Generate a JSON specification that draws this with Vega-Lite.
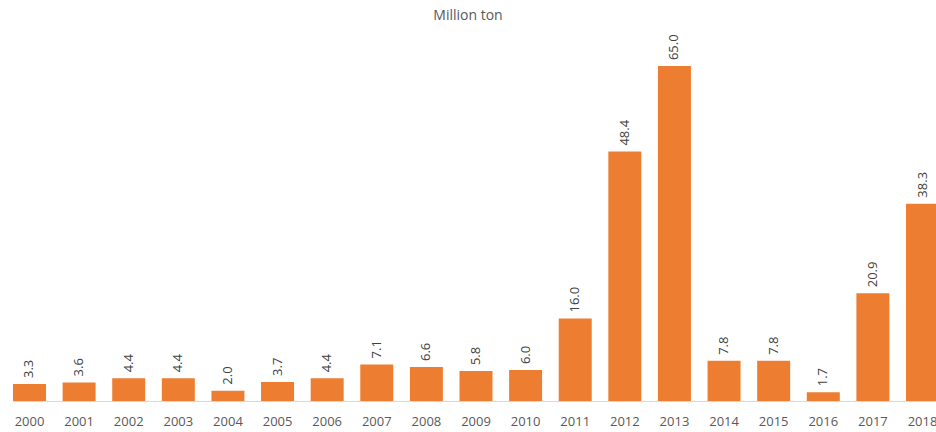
{
  "$schema": "https://vega.github.io/schema/vega-lite/v6.json",
  "autosize": {"type": "none"},
  "width": 936,
  "height": 371,
  "padding": {"top": 30, "bottom": 31, "left": 0, "right": 0},
  "background": "white",
  "title": {"text": "Million ton", "fontSize": 14, "font": "Open Sans", "fontWeight": "normal", "color": "#595959", "offset": 7, "anchor": "middle", "frame": "group"},
  "config": {"view": {"stroke": null}, "font": "Open Sans"},
  "data": {"values": [
    {"year": "2000", "value": 3.3},
    {"year": "2001", "value": 3.6},
    {"year": "2002", "value": 4.4},
    {"year": "2003", "value": 4.4},
    {"year": "2004", "value": 2.0},
    {"year": "2005", "value": 3.7},
    {"year": "2006", "value": 4.4},
    {"year": "2007", "value": 7.1},
    {"year": "2008", "value": 6.6},
    {"year": "2009", "value": 5.8},
    {"year": "2010", "value": 6.0},
    {"year": "2011", "value": 16.0},
    {"year": "2012", "value": 48.4},
    {"year": "2013", "value": 65.0},
    {"year": "2014", "value": 7.8},
    {"year": "2015", "value": 7.8},
    {"year": "2016", "value": 1.7},
    {"year": "2017", "value": 20.9},
    {"year": "2018", "value": 38.3}
  ]},
  "encoding": {
    "x": {"field": "year", "type": "nominal", "sort": null,
      "scale": {"range": [13, 939], "paddingInner": 0.335, "paddingOuter": 0},
      "axis": {"title": null, "labelAngle": 0, "ticks": false, "labelPadding": 14, "labelFontSize": 13, "labelColor": "#595959", "domainColor": "#d9d9d9", "domainWidth": 1}},
    "y": {"field": "value", "type": "quantitative", "scale": {"domain": [0, 72], "nice": false}, "axis": null}
  },
  "layer": [
    {"mark": {"type": "bar", "color": "#ED7D31"}},
    {"mark": {"type": "text", "angle": 270, "align": "left", "baseline": "middle", "dx": 6, "fontSize": 13, "color": "#404040"},
     "encoding": {"text": {"field": "value", "type": "quantitative", "format": ".1f"}}}
  ]
}
